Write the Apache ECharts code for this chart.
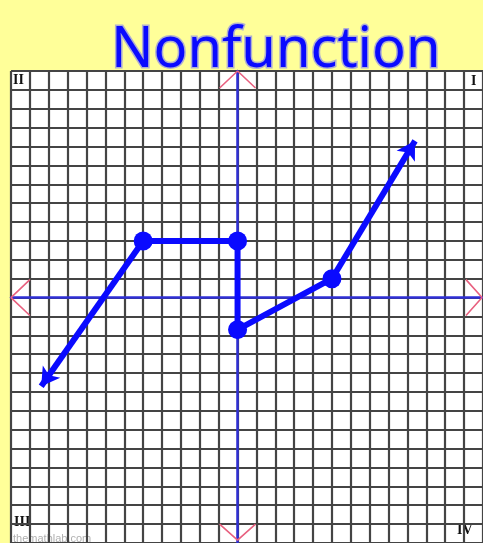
<!DOCTYPE html>
<html>
<head>
<meta charset="utf-8">
<script src="https://cdn.jsdelivr.net/npm/echarts@6/dist/echarts.min.js"></script>
<style>
  html, body { margin: 0; padding: 0; background: #ffff99; }
  #main { width: 483px; height: 543px; }
</style>
</head>
<body>
<div id="main"></div>
<script>
// points of the graph (grid units)
var dotPoints = [[-5, 3], [0, 3], [0, -1.7], [5, 1]];
var leftRay = [[-5, 3], [-10.4, -4.7]];
var rightRay = [[5, 1], [9.4, 8.3]];

// pink chevrons at the ends of the axes
var chevronTop = [[-0.95, 11.1], [0, 12], [0.95, 11.1]];
var chevronBottom = [[-0.95, -12], [0, -12.85], [0.95, -12]];
var chevronLeft = [[-11, 0.95], [-12, 0], [-11, -0.95]];
var chevronRight = [[12.1, 0.95], [12.95, 0], [12.1, -0.95]];

var quadrantLabels = ['II', 'I', 'III', 'IV'];

var blue = '#0a0aff';
var pink = '#e8607f';

function chevron(data) {
    return {
        type: 'line',
        data: data,
        symbol: 'none',
        silent: true,
        lineStyle: { color: pink, width: 1.6 },
        z: 1
    };
}

var myChart = echarts.init(document.getElementById('main'));

var option = {
    backgroundColor: '#ffff99',
    animation: false,
    title: {
        text: 'Nonfunction',
        left: 106,
        top: 18,
        textStyle: {
            color: blue,
            fontFamily: 'Noto Sans',
            fontWeight: 'normal',
            fontSize: 56,
            textBorderColor: 'rgba(110,110,255,0.55)',
            textBorderWidth: 3
        },
        z: 10
    },
    grid: {
        show: true,
        backgroundColor: '#fff',
        borderWidth: 0,
        left: 11,
        top: 71,
        width: 473,
        height: 475
    },
    xAxis: {
        type: 'value',
        min: -12,
        max: 13,
        interval: 1,
        axisLabel: { show: false },
        axisTick: { show: false },
        axisLine: { onZero: true, lineStyle: { color: '#2f2fd6', width: 2.5 } },
        splitLine: { show: true, lineStyle: { color: '#444', width: 2.2 } }
    },
    yAxis: {
        type: 'value',
        min: -13,
        max: 12,
        interval: 1,
        axisLabel: { show: false },
        axisTick: { show: false },
        axisLine: { onZero: true, lineStyle: { color: '#2f2fd6', width: 2.5 } },
        splitLine: { show: true, lineStyle: { color: '#444', width: 2.2 } }
    },
    graphic: [
        { type: 'text', left: 13, top: 73, style: { text: quadrantLabels[0], font: 'bold 14px "Liberation Serif"', fill: '#111' } },
        { type: 'text', left: 471, top: 74, style: { text: quadrantLabels[1], font: 'bold 14px "Liberation Serif"', fill: '#111' } },
        { type: 'text', left: 14, top: 515, style: { text: quadrantLabels[2], font: 'bold 14px "Liberation Serif"', fill: '#111' } },
        { type: 'text', left: 457, top: 523, style: { text: quadrantLabels[3], font: 'bold 14px "Liberation Serif"', fill: '#111' } },
        { type: 'text', left: 13, top: 533, style: { text: 'themathlab.com', font: '11px "Liberation Sans"', fill: '#b0b0b0' } }
    ],
    series: [
        chevron(chevronTop),
        chevron(chevronBottom),
        chevron(chevronLeft),
        chevron(chevronRight),
        {
            type: 'line',
            data: dotPoints,
            symbol: 'circle',
            symbolSize: 19,
            itemStyle: { color: blue },
            lineStyle: { color: blue, width: 6 },
            z: 5,
            markLine: {
                silent: true,
                symbol: ['none', 'arrow'],
                symbolSize: [16, 18],
                label: { show: false },
                lineStyle: { color: blue, width: 6, type: 'solid' },
                data: [
                    [{ coord: leftRay[0] }, { coord: leftRay[1] }],
                    [{ coord: rightRay[0] }, { coord: rightRay[1] }]
                ]
            }
        }
    ]
};
myChart.setOption(option);
</script>
</body>
</html>
